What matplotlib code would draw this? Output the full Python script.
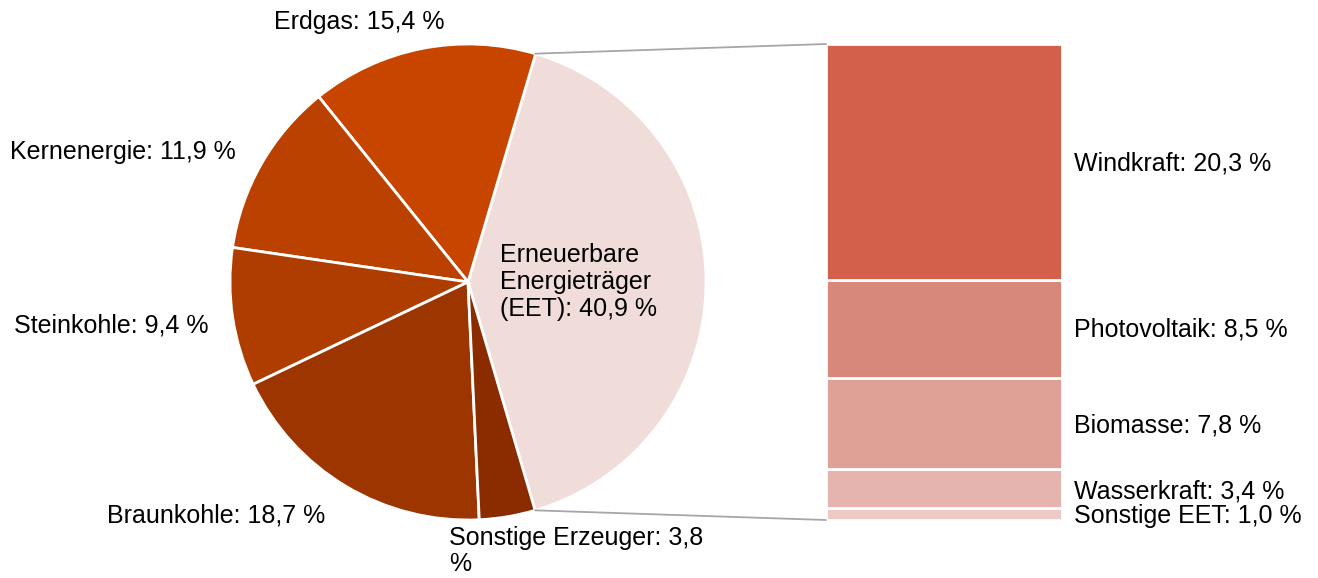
import numpy as np
import matplotlib
matplotlib.use("Agg")
from matplotlib import pyplot as plt
from matplotlib.patches import ConnectionPatch

plt.rcParams['font.family'] = ['Liberation Sans', 'DejaVu Sans']

# pie data (counterclockwise, starting with EET)
pie_labels = ['Erneuerbare\nEnergieträger\n(EET): 40,9 %', 'Erdgas: 15,4 %', 'Kernenergie: 11,9 %',
              'Steinkohle: 9,4 %', 'Braunkohle: 18,7 %', 'Sonstige Erzeuger: 3,8\n%']
pie_values = [40.9, 15.4, 11.9, 9.4, 18.7, 3.8]
pie_colors = ['#F0DCD8', '#C84500', '#BA4100', '#B03D00', '#9C3500', '#8A2C00']

# EET breakdown, bottom to top
bar_labels = ['Sonstige EET: 1,0 %', 'Wasserkraft: 3,4 %', 'Biomasse: 7,8 %',
              'Photovoltaik: 8,5 %', 'Windkraft: 20,3 %']
bar_values = [1.0, 3.4, 7.8, 8.5, 20.3]
bar_colors = ['#EECAC6', '#E6B4AE', '#DFA095', '#D7887A', '#D3604A']

W, H = 1318, 578
fig = plt.figure(figsize=(W / 100, H / 100), dpi=100)
ax = fig.add_axes([0, 0, 1, 1])

cx, cy, r = 468, H - 282, 238
start = -pie_values[0] / 2 * 3.6
wedges, _ = ax.pie(pie_values, colors=pie_colors, startangle=start, counterclock=True,
                   center=(cx, cy), radius=r, frame=True,
                   wedgeprops=dict(edgecolor='white', linewidth=2))
ax.set_xlim(0, W)
ax.set_ylim(0, H)
ax.axis('off')

fs = 18
# label positions (left x, center y in pixel from top)
pie_lbl_pos = [(500, 282), (274, 22), (10, 152), (14, 325), (107, 515), (449, 551)]
for lbl, (x, y) in zip(pie_labels, pie_lbl_pos):
    ax.text(x, H - y, lbl, fontsize=fs, ha='left', va='center', linespacing=1.15)

# stacked bar
bx = fig.add_axes([826 / W, 58 / H, 236 / W, 476 / H])
bottom = 0
for v, c in zip(bar_values, bar_colors):
    bx.bar(0, v, bottom=bottom, width=1, color=c, edgecolor='white', linewidth=2)
    bottom += v
bx.set_xlim(-0.5, 0.5)
bx.set_ylim(0, sum(bar_values))
bx.axis('off')

bar_lbl_y = [516, 491, 425, 330, 163]
for lbl, y in zip(bar_labels, bar_lbl_y):
    fig.text(1074 / W, 1 - y / H, lbl, fontsize=fs, ha='left', va='center')

# connecting lines
theta1 = np.deg2rad(start + pie_values[0] * 3.6)
theta0 = np.deg2rad(start)
p_top = (cx + r * np.cos(theta1), cy + r * np.sin(theta1))
p_bot = (cx + r * np.cos(theta0), cy + r * np.sin(theta0))
for p, yb in [(p_top, sum(bar_values)), (p_bot, 0)]:
    con = ConnectionPatch(xyA=p, coordsA=ax.transData, xyB=(-0.5, yb), coordsB=bx.transData,
                          color='#A6A6A6', linewidth=1.3)
    fig.add_artist(con)

fig.savefig('out.png', dpi=100)
